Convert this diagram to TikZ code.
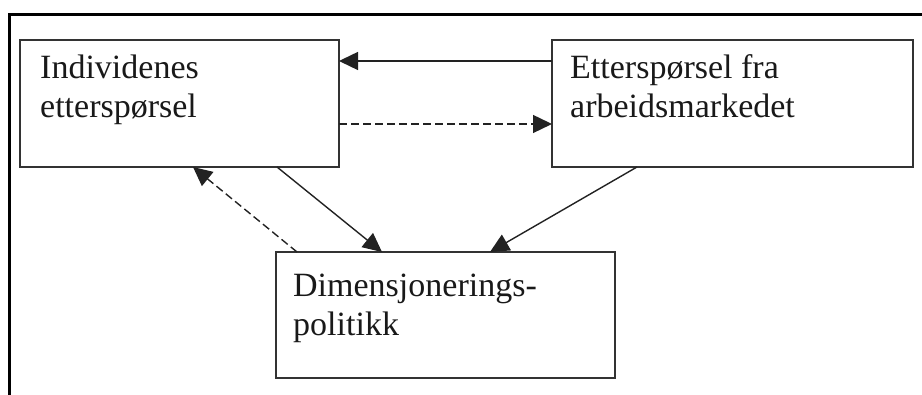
\documentclass[tikz,border=0pt]{standalone}
\usepackage{fontspec}
\setmainfont{Liberation Serif}
\usetikzlibrary{arrows.meta}
\definecolor{boxline}{HTML}{333333}
\definecolor{arrowline}{HTML}{222222}
\begin{document}
\begin{tikzpicture}[x=1pt,y=1pt,
  box/.style={draw=boxline,line width=1.8pt,rectangle,inner sep=0pt,outer sep=0pt,anchor=north west},
  lbl/.style={anchor=base west,inner sep=0pt,align=left,font=\fontsize{34}{39}\selectfont,text=black!90},
  conn/.style={draw=arrowline,line width=1.4pt,-{Triangle[length=19pt,width=18pt]}},
  dconn/.style={conn,dash pattern=on 8pt off 4pt},
  frame/.style={draw=black,line width=3pt}]
\useasboundingbox (0,0) rectangle (922,395);
% outer frame (only top and left visible)
\coordinate (fTL) at (9.5,380.5);
\coordinate (fTR) at (922,380.5);
\coordinate (fBL) at (9.5,0);
\draw[frame] (fBL) -- (fTL) -- (fTR);
% boxes
\node[box,minimum width=319pt,minimum height=127pt] (b1) at (20,355) {};
\node[box,minimum width=361pt,minimum height=127pt] (b2) at (552,355) {};
\node[box,minimum width=339pt,minimum height=126pt] (b3) at (276,143) {};
% labels (base anchor = baseline of last line)
\node[lbl] (t1) at (40,277) {Individenes\\etterspørsel};
\node[lbl] (t2) at (570,277) {Etterspørsel fra\\arbeidsmarkedet};
\node[lbl] (t3) at (293,59) {Dimensjonerings-\\politikk};
% connectors
\draw[conn] ([yshift=42.5pt]b2.west) -- ([yshift=42.5pt]b1.east);
\draw[dconn] ([yshift=-20.5pt]b1.east) -- ([yshift=-20.5pt]b2.west);
\draw[conn] ([xshift=97.5pt]b1.south) -- ([xshift=-63.5pt]b3.north);
\draw[conn] ([xshift=-95.5pt]b2.south) -- ([xshift=44.5pt]b3.north);
\draw[dconn] ([xshift=-148.5pt]b3.north) -- ([xshift=13.5pt]b1.south);
\end{tikzpicture}
\end{document}
